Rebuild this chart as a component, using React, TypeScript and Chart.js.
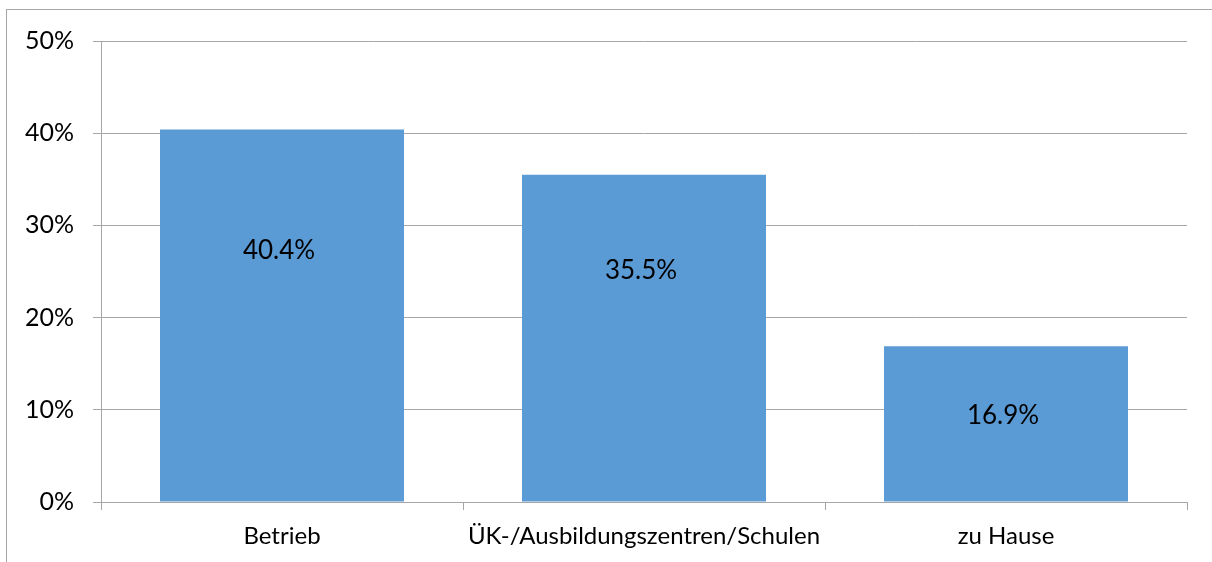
import React, { useEffect, useRef } from "react";
import { Chart, registerables } from "chart.js";

Chart.register(...registerables);

const categories = ["Betrieb", "ÜK-/Ausbildungszentren/Schulen", "zu Hause"];
const values = [40.4, 35.5, 16.9];
const yTicks = [0, 10, 20, 30, 40, 50];

const FONT = "Lato, 'Open Sans', sans-serif";

const labelPlugin = {
  id: "barLabels",
  afterDatasetsDraw(chart: any, _args: any, opts: any) {
    const ctx = chart.ctx;
    const meta = chart.getDatasetMeta(0);
    const fr: number[] = opts.fractions || [];
    ctx.save();
    ctx.font = `26px ${FONT}`;
    ctx.fillStyle = "#000";
    ctx.textAlign = "center";
    ctx.textBaseline = "middle";
    meta.data.forEach((bar: any, i: number) => {
      const v = chart.data.datasets[0].data[i] as number;
      const top = bar.y;
      const bottom = bar.base;
      const y = top + (bottom - top) * (fr[i] ?? 0.5);
      ctx.fillText(v.toFixed(1) + "%", bar.x - 3, y);
    });
    ctx.restore();
  },
};

export default function App() {
  const ref = useRef<HTMLCanvasElement>(null);
  useEffect(() => {
    if (!ref.current) return;
    const chart = new Chart(ref.current, {
      type: "bar",
      data: {
        labels: categories,
        datasets: [
          {
            data: values,
            backgroundColor: "#5B9BD5",
            borderWidth: 0,
            barPercentage: 0.674,
            categoryPercentage: 1,
          },
        ],
      },
      options: {
        animation: false,
        responsive: false,
        maintainAspectRatio: false,
        layout: { padding: { top: 41, right: 25, left: 0, bottom: 0 } },
        plugins: {
          legend: { display: false },
          tooltip: { enabled: false },
          barLabels: { fractions: [0.326, 0.293, 0.446] },
        } as any,
        scales: {
          x: {
            offset: true,
            grid: {
              offset: true,
              drawOnChartArea: false,
              drawTicks: true,
              tickLength: 8,
              color: "#A6A6A6",
            },
            border: { display: true, color: "#A6A6A6", width: 1 },
            ticks: {
              color: "#000",
              font: { family: FONT, size: 24 },
              padding: 12,
              maxRotation: 0,
              autoSkip: false,
            },
            afterFit: (s: any) => {
              s.height = 60;
            },
          },
          y: {
            min: 0,
            max: 50,
            afterBuildTicks: (s: any) => {
              s.ticks = yTicks.map((v) => ({ value: v }));
            },
            grid: { color: "#A6A6A6", tickLength: 8, lineWidth: 1 },
            border: { display: true, color: "#A6A6A6", width: 1 },
            ticks: {
              color: "#000",
              font: { family: FONT, size: 25 },
              padding: 19,
              callback: (v: any) => `${v}%`,
            },
            afterFit: (s: any) => {
              s.width = 101;
            },
          },
        },
      },
      plugins: [labelPlugin],
    });
    return () => chart.destroy();
  }, []);

  return (
    <div
      style={{
        position: "fixed",
        left: 0,
        top: 0,
        width: 1212,
        height: 562,
        background: "#fff",
        overflow: "hidden",
      }}
    >
      <div
        style={{
          position: "absolute",
          left: 6,
          top: 9,
          width: 1300,
          height: 700,
          border: "1px solid #A6A6A6",
          boxSizing: "border-box",
        }}
      />
      <canvas
        ref={ref}
        width={1212}
        height={562}
        style={{ position: "absolute", left: 0, top: 0 }}
      />
    </div>
  );
}
